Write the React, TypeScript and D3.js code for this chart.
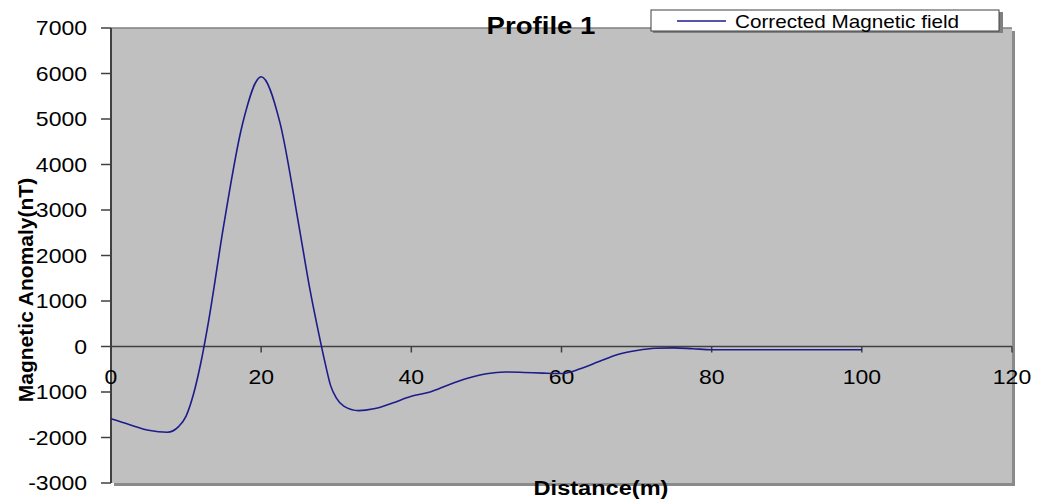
import React from "react";
import * as d3 from "d3";

const distance = [0, 2.5, 5, 7.5, 9, 10, 11, 12, 13, 15, 17.5, 20, 22.5, 25, 26.5, 27.5, 28.5, 29.25, 30, 31, 33, 35, 37.5, 40, 42.5, 45, 47.5, 50, 52.5, 55, 57.5, 60, 62.5, 65, 67.5, 70, 72.5, 75, 77.5, 80, 90, 100];
const anomaly = [-1590, -1720, -1840, -1885, -1760, -1530, -1040, -330, 560, 2650, 4880, 5930, 4920, 2680, 1250, 420, -350, -860, -1130, -1310, -1410, -1370, -1240, -1095, -1000, -840, -700, -600, -560, -570, -585, -595, -490, -330, -175, -88, -37, -30, -50, -70, -72, -72];
const xTicks = [0, 20, 40, 60, 80, 100, 120];
const yTicks = [-3000, -2000, -1000, 0, 1000, 2000, 3000, 4000, 5000, 6000, 7000];
const title = "Profile 1";
const seriesName = "Corrected Magnetic field";
const xTitle = "Distance(m)";
const yTitle = "Magnetic Anomaly(nT)";

const W = 1041, H = 499;
const L = 111, R = 1012, T = 28, B = 483;
const SX = 1.15;
const FONT = "'Liberation Sans', Arial, sans-serif";

export default function App() {
  const x = d3.scaleLinear().domain([0, 120]).range([L, R]);
  const y = d3.scaleLinear().domain([-3000, 7000]).range([B, T]);
  const line = d3.line<number>()
    .x((_, i) => x(distance[i]))
    .y((d) => y(d))
    .curve(d3.curveMonotoneX);
  const y0 = y(0);
  return (
    <svg width={W} height={H} style={{ position: "absolute", left: 0, top: 0, background: "#fff" }} fontFamily={FONT}>
      {/* shadow */}
      <rect x={L + 3} y={T + 3} width={R - L} height={B - T} fill="#8a8a8a" />
      <rect x={L} y={T} width={R - L} height={B - T} fill="#c0c0c0" />
      <line x1={L} x2={R} y1={T} y2={T} stroke="#808080" strokeWidth={1.5} />
      {/* y axis */}
      <line x1={L} x2={L} y1={T} y2={B} stroke="#404040" strokeWidth={2} />
      {yTicks.map((t) => (
        <g key={t}>
          <line x1={L - 10} x2={L} y1={y(t)} y2={y(t)} stroke="#404040" strokeWidth={1.5} />
          <text transform={`translate(87,${y(t) + 7}) scale(${SX},1)`} textAnchor="end" fontSize={20} fill="#000">{t}</text>
        </g>
      ))}
      {/* x axis at zero */}
      <line x1={L} x2={R} y1={y0} y2={y0} stroke="#404040" strokeWidth={1.5} />
      {xTicks.map((t) => (
        <g key={t}>
          <line x1={x(t)} x2={x(t)} y1={y0} y2={y0 + 6} stroke="#404040" strokeWidth={1.5} />
          <text transform={`translate(${x(t)},${y0 + 37}) scale(${SX},1)`} textAnchor="middle" fontSize={20} fill="#000">{t}</text>
        </g>
      ))}
      {/* series */}
      <path d={line(anomaly) || ""} fill="none" stroke="#1c1c8a" strokeWidth={1.6} />
      {/* title */}
      <text transform={`translate(541,34) scale(${SX},1)`} textAnchor="middle" fontSize={24} fontWeight="bold" fill="#000">{title}</text>
      {/* legend */}
      <rect x={653} y={12} width={350} height={21} fill="#808080" />
      <rect x={651} y={10} width={348} height={21} fill="#fff" stroke="#404040" strokeWidth={1} />
      <line x1={677} x2={726} y1={21} y2={21} stroke="#1c1c8a" strokeWidth={1.5} />
      <text transform={`translate(735,28) scale(${SX},1)`} fontSize={18} fill="#000">{seriesName}</text>
      {/* axis titles */}
      <text transform={`translate(601,495) scale(${SX},1)`} textAnchor="middle" fontSize={20.5} fontWeight="bold" fill="#000">{xTitle}</text>
      <text transform="translate(33,290) rotate(-90)" textAnchor="middle" fontSize={21} fontWeight="bold" fill="#000">{yTitle}</text>
    </svg>
  );
}
